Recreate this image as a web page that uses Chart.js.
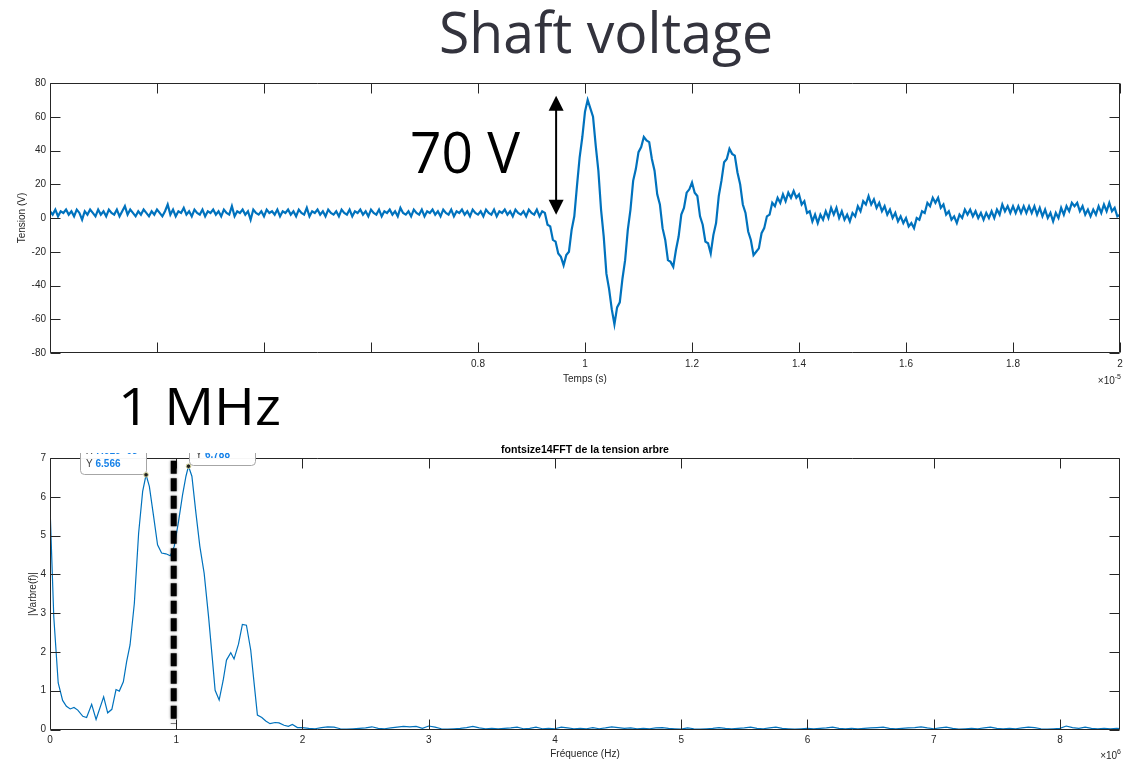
<!DOCTYPE html>
<html><head><meta charset="utf-8">
<script src="https://cdn.jsdelivr.net/npm/chart.js@4.4.0/dist/chart.umd.min.js"></script>
<style>
html,body{margin:0;padding:0;background:#fff;width:1133px;height:762px;overflow:hidden}
#c1{position:absolute;left:0;top:0}
#c2{position:absolute;left:0;top:440px}
</style></head><body>
<canvas id="c1" width="1133" height="440"></canvas>
<canvas id="c2" width="1133" height="322"></canvas>
<script>
// ---------- DATA ----------
// Top: shaft voltage vs time (time in units of 1e-5 s), sampled every 0.005e-5 s from 0
const T_START = 0;
const T_STEP = 0.005;
const TENSION_V = [
 4,2,5,1,4,3,5,2,4,1,5,3,-1,4,2,5,3,1,5,2,
 4,1,5,3,2,5,1,4,7,2,5,3,1,4,2,5,3,1,4,2,
 5,3,1,4,8,2,5,1,4,3,6,2,4,1,5,3,2,5,1,4,
 3,5,2,4,1,5,3,2,7,1,4,3,5,2,4,-1,5,3,2,4,
 1,5,3,4,2,5,1,4,3,5,2,4,1,5,3,2,6,1,4,3,
 5,2,4,1,5,3,2,4,1,5,3,2,5,1,4,3,5,2,4,1,
 5,3,2,5,1,4,3,5,2,4,1,6,3,2,4,1,5,3,2,5,
 1,4,3,5,2,4,1,5,3,2,5,1,4,3,5,2,4,1,5,3,
 2,4,1,5,3,2,5,1,4,3,5,2,4,1,5,3,2,4,1,5,
 3,2,5,1,4,
 3,-4,-5,-13,-14,-21,-23,-28,-22,-20,
 -7,1,19,36,48,63,70,65,60,43,
 28,5,-11,-33,-42,-54,-63,-53,-50,-36,
 -25,-7,5,22,29,39,42,48,46,45,
 35,28,14,8,-6,-13,-25,-26,-29,-19,
 -11,2,6,15,17,21,15,13,1,-4,
 -14,-15,-21,-10,-3,13,22,33,35,41,
 38,37,27,20,8,3,-8,-13,-22,-20,
 -18,-9,-6,1,2,9,7,12,9,14,
 10,15,12,16,12,14,8,10,3,4,
 -2,2,-3,2,-1,4,0,6,2,6,
 0,4,-1,2,-2,3,1,7,4,10,
 8,13,8,11,6,9,4,7,2,5,
 0,3,-2,1,-3,0,-5,-3,-6,0,
 -1,4,3,9,7,12,9,12,6,8,
 2,4,-1,1,-3,2,0,5,2,5,
 1,4,0,3,-1,3,0,4,0,5,
 2,8,4,7,3,7,3,7,3,7,
 3,7,3,7,2,6,1,5,0,3,
 -2,3,0,6,2,7,4,9,7,9,
 4,7,2,5,1,5,2,7,3,8,
 4,9,4,6,1,2
];
const X1_TICKS = {min:0, max:2, step:0.2, firstLabelled:0.8};
const Y1_TICKS = {min:-80, max:80, step:20};

// Bottom: FFT magnitude (frequency in units of 1e6 Hz)
const FFT_HEAD_F = [0,0.03,0.065,0.1,0.13,0.16,0.19,0.22,0.26,0.29,0.33,0.365,0.425,0.457,0.49,0.523,0.549,0.581,0.607,0.634,0.668,0.702,0.734,0.761,0.787,0.821,0.852,0.884,0.918,0.953,0.984,1.018,1.05,1.077,1.097,1.124,1.156,1.187,1.221,1.256,1.287,1.308,1.34,1.372,1.398,1.432,1.458,1.493,1.524,1.556,1.59,1.617,1.643,1.678,1.709,1.743,1.783,1.814,1.854,1.888,1.92,1.96,2.0];
const FFT_HEAD_M = [5.75,2.9,1.2,0.75,0.6,0.53,0.57,0.5,0.34,0.31,0.65,0.26,0.84,0.43,0.52,1.03,0.99,1.23,1.75,2.18,3.25,5.06,6.14,6.566,6.27,5.49,4.76,4.55,4.53,4.48,4.72,5.36,6.05,6.53,6.788,6.53,5.58,4.72,4.03,2.91,1.79,1.01,0.76,1.27,1.79,1.98,1.82,2.2,2.71,2.69,2.05,1.19,0.37,0.31,0.22,0.15,0.18,0.17,0.11,0.08,0.13,0.05,0.05];
const FFT_TAIL_F0 = 2.05;
const FFT_TAIL_DF = 0.05;
const FFT_TAIL_M = [
 0.03,0.02,0.05,0.07,0.06,0.02,0.01,0.02,0.03,0.04,
 0.07,0.03,0.02,0.04,0.06,0.08,0.07,0.08,0.03,0.09,
 0.06,0.02,0.01,0.02,0.03,0.05,0.08,0.04,0.02,0.03,
 0.02,0.03,0.04,0.06,0.02,0.03,0.06,0.02,0.03,0.02,
 0.06,0.04,0.02,0.03,0.02,0.05,0.02,0.04,0.07,0.05,
 0.03,0.04,0.02,0.03,0.02,0.04,0.05,0.03,0.02,0.01,
 0.04,0.02,0.01,0.02,0.03,0.05,0.03,0.02,0.03,0.04,
 0.06,0.03,0.02,0.04,0.06,0.03,0.02,0.01,0.02,0.03,
 0.02,0.03,0.04,0.06,0.03,0.02,0.03,0.02,0.03,0.04,
 0.05,0.06,0.03,0.02,0.03,0.04,0.05,0.07,0.04,0.02,
 0.04,0.06,0.03,0.01,0.02,0.03,0.02,0.04,0.06,0.03,
 0.02,0.03,0.02,0.04,0.06,0.05,0.02,0.01,0.02,0.03,
 0.09,0.05,0.03,0.06,0.03,0.02,0.03,0.02,0.03
];
const FFT_END = {f:8.476, m:0.02};
const X2_TICKS = {min:0, max:8.476, step:1};
const Y2_TICKS = {min:0, max:7, step:1};
const DATATIPS = [
  {f:0.761, m:6.566, xText:'7.61e+05', yText:'6.566', side:'left'},
  {f:1.097, m:6.788, xText:'1.097e+06', yText:'6.788', side:'right'}
];
const MARKER_F = 0.98;           // dashed "1 MHz" marker
const ARROW = {t:0.946, from:72.5, to:2};  // 70 V amplitude arrow

// ---------- BUILD ----------
const tensionPts = TENSION_V.map((v,i)=>({x:T_START + i*T_STEP, y:v}));
const fftPts = FFT_HEAD_F.map((f,i)=>({x:f, y:FFT_HEAD_M[i]}))
  .concat(FFT_TAIL_M.map((m,i)=>({x:FFT_TAIL_F0 + i*FFT_TAIL_DF, y:m})))
  .concat([{x:FFT_END.f, y:FFT_END.m}]);

const FONT = '"Liberation Sans", Arial, Helvetica, sans-serif';
const BIG = '"Open Sans", Lato, "Noto Sans", sans-serif';
const AXC = '#262626';
const BLUE = '#0072BD';

function fitSize(ctx, text, weight, family, w){
  ctx.font = `${weight} 100px ${family}`;
  return 100 * w / ctx.measureText(text).width;
}
// draw text with a given cap height and total width (horizontal scale adjusts)
function bigText(ctx, text, capH, width, x, baseline, align, color){
  ctx.save();
  ctx.font = `400 100px ${BIG}`;
  const cap = ctx.measureText('H').actualBoundingBoxAscent || 71;
  const size = 100 * capH / cap;
  ctx.font = `400 ${size}px ${BIG}`;
  const w = ctx.measureText(text).width;
  const sx = width / w;
  ctx.fillStyle = color;
  ctx.textBaseline = 'alphabetic';
  ctx.textAlign = 'left';
  const left = align === 'center' ? x - width/2 : x;
  ctx.translate(left, baseline);
  ctx.scale(sx, 1);
  ctx.fillText(text, 0, 0);
  ctx.restore();
}
function frame(chart){
  const {ctx, chartArea:a, scales:{x,y}} = chart;
  ctx.save();
  ctx.strokeStyle = AXC; ctx.lineWidth = 1;
  const L = Math.round(a.left)+0.5, R = Math.round(a.right)-0.5,
        T = Math.round(a.top)+0.5, B = Math.round(a.bottom)-0.5;
  ctx.beginPath(); ctx.rect(L,T,R-L,B-T); ctx.stroke();
  const tl = 10;
  ctx.beginPath();
  x.ticks.forEach(t=>{ const p = Math.round(x.getPixelForValue(t.value))+0.5;
    ctx.moveTo(p,B); ctx.lineTo(p,B-tl); ctx.moveTo(p,T); ctx.lineTo(p,T+tl); });
  y.ticks.forEach(t=>{ const p = Math.round(y.getPixelForValue(t.value))+0.5;
    ctx.moveTo(L,p); ctx.lineTo(L+tl,p); ctx.moveTo(R,p); ctx.lineTo(R-tl,p); });
  ctx.stroke();
  ctx.restore();
}
function label(ctx, text, x, y, opts={}){
  ctx.save();
  ctx.font = opts.font || `10px ${FONT}`;
  ctx.fillStyle = opts.color || AXC;
  ctx.textAlign = opts.align || 'center';
  ctx.textBaseline = opts.baseline || 'middle';
  if (opts.rot){ ctx.translate(x,y); ctx.rotate(opts.rot); ctx.fillText(text,0,0); }
  else ctx.fillText(text,x,y);
  ctx.restore();
}
function expLabel(ctx, exp, right, y){
  ctx.save();
  ctx.fillStyle = AXC; ctx.textBaseline = 'alphabetic';
  ctx.font = `7px ${FONT}`; const we = ctx.measureText(exp).width;
  ctx.font = `10px ${FONT}`; const wb = ctx.measureText('\u00d710').width;
  ctx.textAlign = 'left';
  ctx.fillText('\u00d710', right - we - wb, y);
  ctx.font = `7px ${FONT}`;
  ctx.fillText(exp, right - we, y - 5);
  ctx.restore();
}
const tickFont = {family: FONT, size: 10};

// ---------- TOP CHART ----------
const topPlugin = {
  id:'topDeco',
  afterDraw(chart){
    const {ctx, scales:{x,y}} = chart;
    frame(chart);
    label(ctx, 'Tension (V)', 22, 218, {rot:-Math.PI/2});
    label(ctx, 'Temps (s)', 585, 379);
    expLabel(ctx, '-5', 1121, 384);
    bigText(ctx, 'Shaft voltage', 41, 334, 606, 53, 'center', '#33333d');
    bigText(ctx, '70 V', 41.5, 110, 410, 173, 'left', '#000');
    bigText(ctx, '1 MHz', 38, 163, 118, 425, 'left', '#000');
    // double arrow
    ctx.save();
    const ax = x.getPixelForValue(ARROW.t);
    const y0 = y.getPixelForValue(ARROW.from), y1 = y.getPixelForValue(ARROW.to);
    ctx.strokeStyle = '#000'; ctx.fillStyle = '#000'; ctx.lineWidth = 2;
    ctx.beginPath(); ctx.moveTo(ax, y0+12); ctx.lineTo(ax, y1-12); ctx.stroke();
    ctx.beginPath(); ctx.moveTo(ax, y0); ctx.lineTo(ax-7.5, y0+15); ctx.lineTo(ax+7.5, y0+15); ctx.closePath(); ctx.fill();
    ctx.beginPath(); ctx.moveTo(ax, y1); ctx.lineTo(ax-7.5, y1-15); ctx.lineTo(ax+7.5, y1-15); ctx.closePath(); ctx.fill();
    ctx.restore();
  }
};
new Chart(document.getElementById('c1'), {
  type:'line',
  data:{datasets:[{data:tensionPts, borderColor:BLUE, borderWidth:2.2, pointRadius:0, tension:0, fill:false}]},
  options:{
    responsive:false, animation:false, events:[],
    layout:{padding:{left:0, right:13, top:83, bottom:0}},
    plugins:{legend:{display:false}, tooltip:{enabled:false}, title:{display:false}},
    scales:{
      x:{type:'linear', min:X1_TICKS.min, max:X1_TICKS.max,
         grid:{display:false, drawTicks:false}, border:{display:false},
         ticks:{stepSize:X1_TICKS.step, autoSkip:false, maxRotation:0, padding:5, font:tickFont, color:AXC,
           callback:v=> v < X1_TICKS.firstLabelled - 1e-6 ? '' : String(Math.round(v*10)/10)},
         afterFit:s=>{s.height = 87;}},
      y:{type:'linear', min:Y1_TICKS.min, max:Y1_TICKS.max,
         grid:{display:false, drawTicks:false}, border:{display:false},
         ticks:{stepSize:Y1_TICKS.step, padding:4, font:tickFont, color:AXC},
         afterFit:s=>{s.width = 50;}}
    }
  },
  plugins:[topPlugin]
});

// ---------- BOTTOM CHART ----------
const botPlugin = {
  id:'botDeco',
  afterDraw(chart){
    const {ctx, scales:{x,y}} = chart;
    frame(chart);
    label(ctx, '|Varbre(f)|', 33, 154, {rot:-Math.PI/2});
    label(ctx, 'Fr\u00e9quence (Hz)', 585, 314);
    expLabel(ctx, '6', 1121, 319);
    const ts = fitSize(ctx, 'fontsize14FFT de la tension arbre', 'bold', FONT, 168);
    label(ctx, 'fontsize14FFT de la tension arbre', 585, 10, {font:`bold ${ts}px ${FONT}`, color:'#000'});
    // dashed marker line
    ctx.save();
    const mx = x.getPixelForValue(MARKER_F);
    ctx.strokeStyle = '#000'; ctx.lineWidth = 6; ctx.setLineDash([13,4.5]);
    ctx.shadowColor = 'rgba(0,0,0,0.45)'; ctx.shadowBlur = 3;
    ctx.beginPath(); ctx.moveTo(mx, y.getPixelForValue(6.93)); ctx.lineTo(mx, y.getPixelForValue(0.15)); ctx.stroke();
    ctx.restore();
    // data tips (clipped at the top like in the figure)
    ctx.save();
    ctx.beginPath(); ctx.rect(0, 13, chart.width, chart.height-13); ctx.clip();
    DATATIPS.forEach(d=>{
      const px = x.getPixelForValue(d.f), py = y.getPixelForValue(d.m);
      const w = 66, h = 36;
      const left = d.side === 'left' ? px - w : px + 1;
      const bottom = py - 1, top = bottom - h;
      ctx.beginPath();
      ctx.roundRect(Math.round(left)+0.5, Math.round(top)+0.5, w, h, 4);
      ctx.fillStyle = 'rgba(255,255,255,0.96)'; ctx.fill();
      ctx.strokeStyle = '#a6a6a6'; ctx.lineWidth = 1; ctx.stroke();
      ctx.textAlign = 'left'; ctx.textBaseline = 'alphabetic';
      const tx = left + 6;
      [['X', d.xText, bottom - 20], ['Y', d.yText, bottom - 7]].forEach(([k,v,by])=>{
        ctx.font = `10px ${FONT}`; ctx.fillStyle = '#404040';
        ctx.fillText(k, tx, by);
        const kw = ctx.measureText(k + ' ').width;
        ctx.font = `bold 10px ${FONT}`; ctx.fillStyle = '#1782e8';
        ctx.fillText(v, tx + kw, by);
      });
      ctx.beginPath(); ctx.arc(px, py, 2.3, 0, Math.PI*2);
      ctx.fillStyle = '#222'; ctx.fill();
      ctx.strokeStyle = '#d9d9a0'; ctx.lineWidth = 1; ctx.stroke();
    });
    ctx.restore();
  }
};
new Chart(document.getElementById('c2'), {
  type:'line',
  data:{datasets:[{data:fftPts, borderColor:BLUE, borderWidth:1.2, pointRadius:0, tension:0, fill:false}]},
  options:{
    responsive:false, animation:false, events:[],
    layout:{padding:{left:0, right:13, top:18, bottom:0}},
    plugins:{legend:{display:false}, tooltip:{enabled:false}, title:{display:false}},
    scales:{
      x:{type:'linear', min:X2_TICKS.min, max:X2_TICKS.max,
         grid:{display:false, drawTicks:false}, border:{display:false},
         ticks:{stepSize:X2_TICKS.step, includeBounds:false, autoSkip:false, maxRotation:0, padding:5, font:tickFont, color:AXC,
           callback:v=>String(Math.round(v))},
         afterFit:s=>{s.height = 32.5;}},
      y:{type:'linear', min:Y2_TICKS.min, max:Y2_TICKS.max,
         grid:{display:false, drawTicks:false}, border:{display:false},
         ticks:{stepSize:Y2_TICKS.step, padding:4, font:tickFont, color:AXC},
         afterFit:s=>{s.width = 50;}}
    }
  },
  plugins:[botPlugin]
});
</script>
</body></html>
